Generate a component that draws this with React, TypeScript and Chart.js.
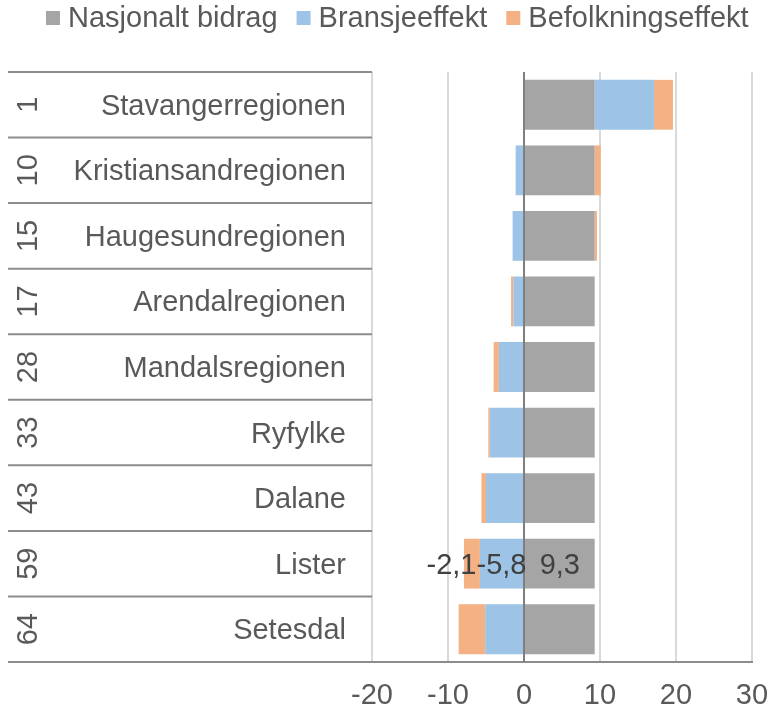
import React, { useEffect, useRef } from "react";
import { Chart, registerables } from "chart.js";

Chart.register(...registerables);

const ranks = ["1", "10", "15", "17", "28", "33", "43", "59", "64"];
const regions = [
  "Stavangerregionen",
  "Kristiansandregionen",
  "Haugesundregionen",
  "Arendalregionen",
  "Mandalsregionen",
  "Ryfylke",
  "Dalane",
  "Lister",
  "Setesdal",
];
const nasjonaltBidrag = [9.3, 9.3, 9.3, 9.3, 9.3, 9.3, 9.3, 9.3, 9.3];
const bransjeeffekt = [7.8, -1.1, -1.5, -1.4, -3.3, -4.5, -5.0, -5.8, -5.1];
const befolkningseffekt = [2.5, 0.8, 0.3, -0.3, -0.7, -0.2, -0.6, -2.1, -3.5];
const seriesNames = ["Nasjonalt bidrag", "Bransjeeffekt", "Befolkningseffekt"];
const seriesColors = ["#a5a5a5", "#9dc3e6", "#f4b183"];
const xTicks = [-20, -10, 0, 10, 20, 30];
const labelledRow = "Lister";

const FONT = "'Liberation Sans', Arial, sans-serif";
const FS = 29;
const TEXT = "#595959";

const fmt = (v: number) => v.toFixed(1).replace(".", ",");

const customPlugin = {
  id: "custom",
  afterDatasetsDraw(chart: any) {
    const ctx = chart.ctx;
    const xs = chart.scales.x;
    const area = chart.chartArea;
    ctx.save();
    // zero line
    const x0 = xs.getPixelForValue(0);
    ctx.strokeStyle = "#7f7f7f";
    ctx.lineWidth = 2;
    ctx.beginPath();
    ctx.moveTo(x0, area.top);
    ctx.lineTo(x0, area.bottom);
    ctx.stroke();

    // data labels on one row
    const idx = regions.indexOf(labelledRow);
    ctx.font = `${FS}px ${FONT}`;
    ctx.fillStyle = "#404040";
    ctx.textBaseline = "alphabetic";
    const m0 = chart.getDatasetMeta(0).data[idx];
    const m1 = chart.getDatasetMeta(1).data[idx];
    const cy = m0.y + 10;
    ctx.textAlign = "center";
    const c0 = (m0.x + m0.base) / 2;
    ctx.fillText(fmt(nasjonaltBidrag[idx]), c0, cy);
    const c1 = (m1.x + m1.base) / 2;
    const t1 = fmt(bransjeeffekt[idx]);
    ctx.fillText(t1, c1, cy);
    const w1 = ctx.measureText(t1).width;
    ctx.textAlign = "right";
    ctx.fillText(fmt(befolkningseffekt[idx]), c1 - w1 / 2, cy);
    ctx.restore();
  },
  afterDraw(chart: any) {
    const ctx = chart.ctx;
    const ys = chart.scales.y;
    const area = chart.chartArea;
    ctx.save();
    // row separators in the label area
    const step = ys.getPixelForValue(1) - ys.getPixelForValue(0);
    ctx.strokeStyle = "#8c8c8c";
    ctx.lineWidth = 2;
    for (let i = 0; i <= regions.length; i++) {
      const y = ys.getPixelForValue(i) - step / 2;
      ctx.beginPath();
      ctx.moveTo(ys.left, y);
      ctx.lineTo(area.left, y);
      ctx.stroke();
    }
    // names and ranks
    ctx.font = `${FS}px ${FONT}`;
    ctx.fillStyle = TEXT;
    regions.forEach((name, i) => {
      const cy = ys.getPixelForValue(i);
      ctx.textAlign = "right";
      ctx.textBaseline = "alphabetic";
      ctx.fillText(name, area.left - 26, cy + 10);
      ctx.save();
      ctx.translate(ys.left + 29, cy);
      ctx.rotate(-Math.PI / 2);
      ctx.textAlign = "center";
      ctx.fillText(ranks[i], 0, 0);
      ctx.restore();
    });
    // legend
    let x = 46;
    ctx.textAlign = "left";
    ctx.textBaseline = "alphabetic";
    seriesNames.forEach((n, i) => {
      ctx.fillStyle = seriesColors[i];
      ctx.fillRect(x, 11, 14, 14);
      ctx.fillStyle = TEXT;
      ctx.fillText(n, x + 22, 27);
      x += 22 + ctx.measureText(n).width + 19;
    });
    ctx.restore();
  },
};

export default function App() {
  const ref = useRef<HTMLCanvasElement>(null);
  useEffect(() => {
    if (!ref.current) return;
    const chart = new Chart(ref.current, {
      type: "bar",
      data: {
        labels: regions,
        datasets: [
          { label: seriesNames[0], data: nasjonaltBidrag, backgroundColor: seriesColors[0] },
          { label: seriesNames[1], data: bransjeeffekt, backgroundColor: seriesColors[1] },
          { label: seriesNames[2], data: befolkningseffekt, backgroundColor: seriesColors[2] },
        ],
      },
      options: {
        indexAxis: "y",
        responsive: false,
        animation: false,
        devicePixelRatio: 1,
        datasets: { bar: { categoryPercentage: 1, barPercentage: 0.76, borderWidth: 0 } },
        layout: { padding: { left: 8, right: 20, top: 72, bottom: 0 } },
        plugins: { legend: { display: false }, tooltip: { enabled: false } },
        scales: {
          x: {
            stacked: true,
            min: -20,
            max: 30,
            afterBuildTicks: (s: any) => {
              s.ticks = xTicks.map((v) => ({ value: v }));
            },
            afterFit: (s: any) => {
              s.height = 49;
              s.paddingLeft = 0;
              s.paddingRight = 0;
            },
            ticks: {
              font: { family: FONT, size: FS },
              color: TEXT,
              padding: 17,
              maxRotation: 0,
              callback: (v: any) => String(v),
            },
            grid: { color: "#d9d9d9", lineWidth: 2, drawTicks: false },
            border: { display: true, color: "#8c8c8c", width: 2 },
          },
          y: {
            stacked: true,
            afterFit: (s: any) => {
              s.width = 364;
            },
            ticks: { display: false },
            grid: { display: false },
            border: { display: false },
          },
        },
      },
      plugins: [customPlugin],
    } as any);
    return () => chart.destroy();
  }, []);
  return (
    <div style={{ position: "fixed", left: 0, top: 0, width: 772, height: 711, background: "#fff" }}>
      <canvas ref={ref} width={772} height={711} style={{ display: "block" }} />
    </div>
  );
}
